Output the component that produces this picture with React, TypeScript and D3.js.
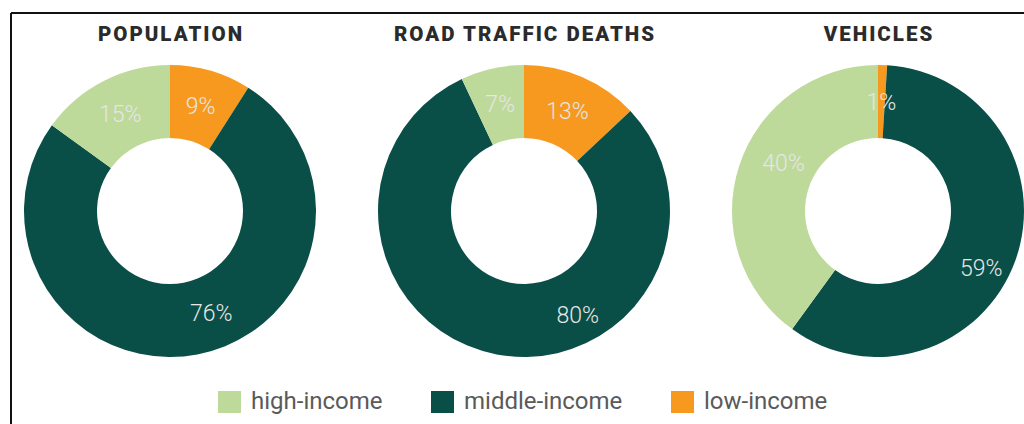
import React from "react";
import * as d3 from "d3";

const categories = ["low-income", "middle-income", "high-income"];
const legendOrder = ["high-income", "middle-income", "low-income"];
const chartTitles = ["POPULATION", "ROAD TRAFFIC DEATHS", "VEHICLES"];
const populationValues = [9, 76, 15];
const deathsValues = [13, 80, 7];
const vehiclesValues = [1, 59, 40];
const seriesValues = [populationValues, deathsValues, vehiclesValues];
// label placement overrides (chart index, category index, angle in degrees, radius)
const labelOverrides: [number, number, number, number][] = [
  [0, 1, 158, 110],
  [1, 1, 152.7, 117],
  [2, 1, 119, 118],
  [2, 2, 297, 106],
];

const colors: Record<string, string> = {
  "high-income": "#bdda9a",
  "middle-income": "#0a4f47",
  "low-income": "#f7991f",
};

const W = 1024;
const H = 424;
const centersX = [170, 524, 878];
const centerY = 211;
const outerR = 146;
const innerR = 73;

export default function App() {
  const pie = d3
    .pie<number>()
    .value((d) => d)
    .sort(null);
  const arc = d3.arc<d3.PieArcDatum<number>>().innerRadius(innerR).outerRadius(outerR);
  const legendX = [218, 431, 671];
  return (
    <svg
      width={W}
      height={H}
      style={{ position: "absolute", left: 0, top: 0, background: "#fff" }}
    >
      <line x1={11} y1={13} x2={W} y2={13} stroke="#111" strokeWidth={2} />
      <line x1={11} y1={13} x2={11} y2={H} stroke="#111" strokeWidth={2} />
      {seriesValues.map((vals, i) => {
        const arcs = pie(vals);
        return (
          <g key={i}>
            <text
              x={centersX[i]}
              y={41}
              dx={1}
              textAnchor="middle"
              fontFamily="Roboto"
              fontWeight={900}
              fontSize={20.5}
              letterSpacing={2}
              fill="#2b2b2b"
            >
              {chartTitles[i]}
            </text>
            <g transform={`translate(${centersX[i]},${centerY})`}>
              {arcs.map((a, j) => (
                <path key={j} d={arc(a) || ""} fill={colors[categories[j]]} />
              ))}
              {arcs.map((a, j) => {
                let [cx, cy] = arc.centroid(a);
                const ov = labelOverrides.find((o) => o[0] === i && o[1] === j);
                if (ov) {
                  const ang = (ov[2] * Math.PI) / 180;
                  cx = Math.sin(ang) * ov[3];
                  cy = -Math.cos(ang) * ov[3];
                }
                return (
                  <text
                    key={"t" + j}
                    x={cx}
                    y={cy}
                    dy="0.36em"
                    textAnchor="middle"
                    fontFamily="Roboto"
                    fontWeight={300}
                    fontSize={23}
                    fill="#e6e6e6"
                  >
                    {vals[j]}%
                  </text>
                );
              })}
            </g>
          </g>
        );
      })}
      {legendOrder.map((c, i) => (
        <g key={c} transform={`translate(${legendX[i]},391)`}>
          <rect x={0} y={0} width={23} height={22} fill={colors[c]} />
          <text x={33} y={18} fontFamily="Roboto" fontSize={24} fill="#5a5a5a">
            {c}
          </text>
        </g>
      ))}
    </svg>
  );
}
